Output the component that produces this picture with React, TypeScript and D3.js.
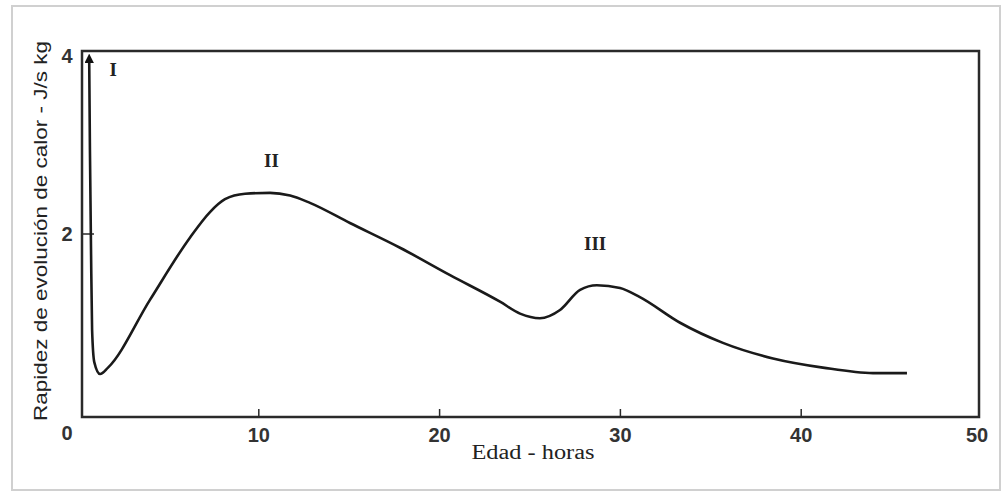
import * as d3 from "d3";

// values
const hours = [0.62, 0.66, 0.72, 0.78, 0.9, 1.22, 1.66, 3.98, 6.19, 7.3, 8.13, 9.24, 10.62, 11.73, 12.83, 15.04, 17.81, 20.58, 23.34, 24.45, 25.55, 26.66, 27.77, 28.7, 29.98, 31.08, 33.3, 35.67, 38.44, 41.2, 43.97, 45.85];
const rate = [3.9, 2.92, 1.83, 0.95, 0.6, 0.47, 0.54, 1.28, 1.96, 2.24, 2.38, 2.44, 2.45, 2.42, 2.34, 2.12, 1.85, 1.55, 1.26, 1.13, 1.08, 1.17, 1.39, 1.44, 1.41, 1.31, 1.03, 0.81, 0.64, 0.54, 0.48, 0.48];

const xTicks = [10, 20, 30, 40, 50];
const yTicks = [4, 2];
const peaks = [
  { label: "I", x: 1.95, y: 3.8 },
  { label: "II", x: 10.7, y: 2.8 },
  { label: "III", x: 28.6, y: 1.9 },
];

const W = 1004;
const H = 493;
const FRAME = { left: 82, right: 979, top: 51, bottom: 417 };

const x = d3.scaleLinear().domain([0, 50]).range([78, 982]);
const y = d3.scaleLinear().domain([0, 4]).range([FRAME.bottom, FRAME.top]);

const line = d3
  .line<number>()
  .x((_, i) => x(hours[i]))
  .y((d) => y(d))
  .curve(d3.curveMonotoneX);

const sans = "'Liberation Sans', Arial, sans-serif";
const serif = "'Liberation Serif', 'Times New Roman', serif";

export default function App() {
  return (
    <svg width={W} height={H} style={{ position: "absolute", left: 0, top: 0, background: "#fff" }}>
      <defs>
        <marker id="arrow" viewBox="0 0 10 10" refX="3" refY="5" markerWidth="3.6" markerHeight="3.6" orient="auto-start-reverse">
          <path d="M0,0 L10,5 L0,10 z" fill="#111" />
        </marker>
      </defs>

      {/* outer picture border */}
      <rect x={12} y={6} width={988} height={484} fill="none" stroke="#d0d0d0" strokeWidth={2} />

      {/* plot frame */}
      <rect
        x={FRAME.left}
        y={FRAME.top}
        width={FRAME.right - FRAME.left}
        height={FRAME.bottom - FRAME.top}
        fill="none"
        stroke="#2a2a2a"
        strokeWidth={2.5}
      />

      {/* x ticks */}
      {xTicks.map((t) => (
        <g key={t}>
          {t < 50 && <line x1={x(t)} x2={x(t)} y1={FRAME.bottom} y2={FRAME.bottom - 8} stroke="#2a2a2a" strokeWidth={1.5} />}
          <text
            x={x(t) - (t === 50 ? 5 : 0)}
            y={435}
            textAnchor="middle"
            dominantBaseline="central"
            fontFamily={sans}
            fontWeight="bold"
            fontSize={20}
            fill="#333"
          >
            {t}
          </text>
        </g>
      ))}

      {/* y ticks */}
      {yTicks.map((t) => (
        <g key={t}>
          {t < 4 && <line x1={FRAME.left} x2={FRAME.left + 12} y1={y(t)} y2={y(t)} stroke="#2a2a2a" strokeWidth={1.5} />}
          <text
            x={67}
            y={y(t) + (t === 4 ? 5 : 0)}
            textAnchor="middle"
            dominantBaseline="central"
            fontFamily={sans}
            fontWeight="bold"
            fontSize={20}
            fill="#333"
          >
            {t}
          </text>
        </g>
      ))}
      <text x={67} y={433} textAnchor="middle" dominantBaseline="central" fontFamily={sans} fontWeight="bold" fontSize={20} fill="#333">
        0
      </text>

      {/* curve */}
      <path d={line(rate) ?? ""} fill="none" stroke="#1a1a1a" strokeWidth={2.6} markerStart="url(#arrow)" />

      {/* peak labels */}
      {peaks.map((p) => (
        <text
          key={p.label}
          x={x(p.x)}
          y={y(p.y)}
          textAnchor="middle"
          dominantBaseline="central"
          fontFamily={serif}
          fontWeight="bold"
          fontSize={19}
          fill="#222"
        >
          {p.label}
        </text>
      ))}

      {/* axis titles */}
      <text
        x={533}
        y={452}
        textAnchor="middle"
        dominantBaseline="central"
        fontFamily={serif}
        fontSize={20}
        textLength={123}
        lengthAdjust="spacingAndGlyphs"
        fill="#222"
      >
        Edad - horas
      </text>
      <text
        transform="translate(40,231) rotate(-90)"
        textAnchor="middle"
        dominantBaseline="central"
        fontFamily={sans}
        fontSize={19}
        textLength={380}
        lengthAdjust="spacingAndGlyphs"
        fill="#222"
      >
        Rapidez de evolución de calor - J/s kg
      </text>
    </svg>
  );
}
